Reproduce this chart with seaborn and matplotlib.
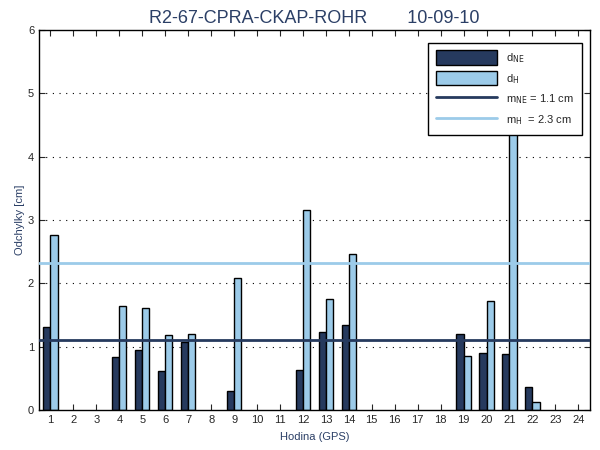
import numpy as np
import pandas as pd
import seaborn as sns
import matplotlib.pyplot as plt
from matplotlib.patches import Patch
from matplotlib.lines import Line2D

hours = [1, 4, 5, 6, 7, 9, 12, 13, 14, 19, 20, 21, 22]
d_ne = [1.31, 0.84, 0.95, 0.62, 1.07, 0.30, 0.63, 1.23, 1.34, 1.20, 0.90, 0.88, 0.36]
d_h = [2.76, 1.64, 1.61, 1.18, 1.20, 2.08, 3.16, 1.75, 2.46, 0.85, 1.72, 4.70, 0.13]
m_ne = 1.1
m_h = 2.32
all_hours = list(range(1, 25))

c_ne = "#263a5e"
c_h = "#9ccbe9"
c_txt = "#2b3f66"

dt = pd.concat(
    [
        pd.DataFrame({"hodina": hours, "val": d_ne, "typ": "NE"}),
        pd.DataFrame({"hodina": hours, "val": d_h, "typ": "H"}),
    ]
).reset_index(drop=True)

sns.set_style("ticks")
plt.rcParams["font.family"] = ["Liberation Sans", "DejaVu Sans"]

fig = plt.figure(figsize=(6, 4.5), dpi=100)
ax = fig.add_axes([0.065, 0.089, 0.918, 0.844])

for y in range(1, 6):
    ax.axhline(y, color="black", linestyle=(0, (1, 5)), linewidth=0.8, zorder=0)

sns.barplot(
    data=dt, x="hodina", y="val", hue="typ", order=all_hours,
    hue_order=["NE", "H"], palette=[c_ne, c_h], width=0.62,
    edgecolor="black", linewidth=1, saturation=1, legend=False, ax=ax,
)

ax.axhline(m_ne, color=c_ne, linewidth=2, zorder=3)
ax.axhline(m_h, color=c_h, linewidth=2, zorder=3)

ax.set_xlim(-0.5, 23.5)
ax.set_ylim(0, 6)
ax.set_yticks(range(0, 7))
ax.tick_params(direction="in", top=True, right=True, labelsize=8, length=4)
for s in ax.spines.values():
    s.set_visible(True)
    s.set_linewidth(1)
    s.set_color("black")

ax.set_xlabel("Hodina (GPS)", fontsize=8, color=c_txt, labelpad=5)
ax.set_ylabel("Odchylky [cm]", fontsize=8, color=c_txt, labelpad=2)
ax.set_title("R2-67-CPRA-CKAP-ROHR        10-09-10", fontsize=13, color=c_txt, pad=5)

handles = [
    Patch(facecolor=c_ne, edgecolor="black"),
    Patch(facecolor=c_h, edgecolor="black"),
    Line2D([], [], color=c_ne, linewidth=2),
    Line2D([], [], color=c_h, linewidth=2),
]
labels = [
    r"d$_{\mathrm{NE}}$",
    r"d$_{\mathrm{H}}$",
    r"m$_{\mathrm{NE}}$ = 1.1 cm",
    r"m$_{\mathrm{H}}$  = 2.3 cm",
]
leg = ax.legend(
    handles, labels, loc="upper right", fontsize=8, handlelength=5.5,
    handleheight=1.6, labelspacing=0.55, fancybox=False, framealpha=1,
    edgecolor="black", bbox_to_anchor=(0.985, 0.967), borderaxespad=0.0,
    borderpad=0.7,
)
leg.get_frame().set_linewidth(1)
leg.set_zorder(10)

plt.savefig("out.png", dpi=100)
